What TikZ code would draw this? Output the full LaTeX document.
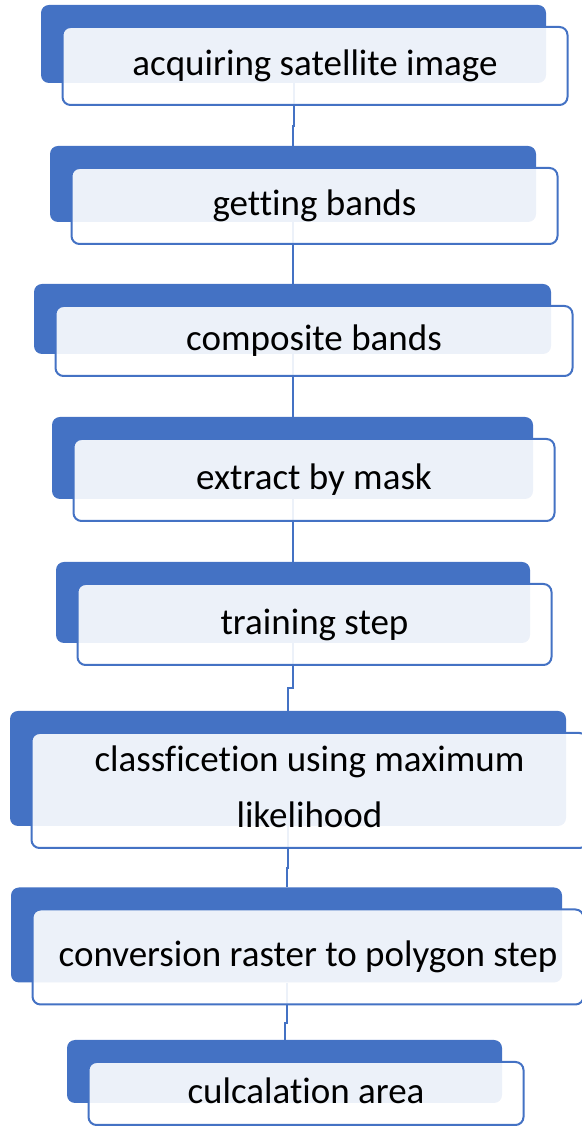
\documentclass[tikz,border=0pt]{standalone}
\usepackage{fontspec}
\setmainfont{Carlito}[Ligatures={NoCommon}]
\usetikzlibrary{calc}
\definecolor{accent}{HTML}{4472C4}
\pgfdeclarelayer{wires}
\pgfsetlayers{wires,main}
\tikzset{
  backbox/.style={rectangle, rounded corners=8pt, fill=accent, draw=none, inner sep=0pt},
  frontbox/.style={rectangle, rounded corners=8pt, draw=accent, line width=2pt,
    fill=white, fill opacity=0.9, inner sep=0pt},
  caption/.style={anchor=base, inner sep=0pt, align=center, text=black,
    font=\fontsize{37}{56}\selectfont},
  conn/.style={draw=accent, line width=2pt},
}
% #1 name, #2 centre x, #3 centre y measured from the top, #4 width, #5 height
\newcommand\flowpair[5]{%
  \node[backbox, minimum width=#4, minimum height=#5] (b#1) at (#2, 1126-#3) {};
  \node[frontbox, minimum width=#4, minimum height=#5] (f#1) at ($(b#1.center)+(21.5,-22)$) {};
}
\begin{document}
\begin{tikzpicture}[x=1pt, y=1pt]
  \useasboundingbox (0,0) rectangle (581,1126);

  \flowpair{1}{293.5}{44}{505}{78}
  \flowpair{2}{293}{184}{486}{76}
  \flowpair{3}{292.5}{319}{517}{70}
  \flowpair{4}{292.5}{458}{481}{82}
  \flowpair{5}{293}{602.5}{474}{81}
  \flowpair{6}{288}{768.5}{556}{115}
  \flowpair{7}{286.5}{935}{551}{95}
  \flowpair{8}{284.5}{1071.5}{435}{63}

  \node[caption] (t1) at ($(f1.center)+(0,-9.8)$) {acquiring satellite image};
  \node[caption] (t2) at ($(f2.center)+(0,-9.8)$) {getting bands};
  \node[caption] (t3) at ($(f3.center)+(0,-9.8)$) {composite bands};
  \node[caption] (t4) at ($(f4.center)+(0,-9.8)$) {extract by mask};
  \node[caption] (t5) at ($(f5.center)+(0,-9.8)$) {training step};
  \node[caption] (t6) at (309.5, 1126-828) {classficetion using maximum\\likelihood};
  \node[caption] (t7) at ($(f7.center)+(0,-9.8)$) {conversion raster to polygon step};
  \node[caption] (t8) at ($(f8.center)+(0,-9.8)$) {culcalation area};

  % connectors run behind the boxes, with a small jog where the centres differ
  \begin{pgfonlayer}{wires}
    \foreach \a/\b in {1/2,2/3,3/4,4/5,5/6,6/7,7/8} {
      \coordinate (j\a) at ($(f\a.south)!0.5!(b\b.north)$);
      \draw[conn] (b\a.south) -- (b\a.south |- j\a) -| (b\b.north);
    }
  \end{pgfonlayer}
\end{tikzpicture}
\end{document}
